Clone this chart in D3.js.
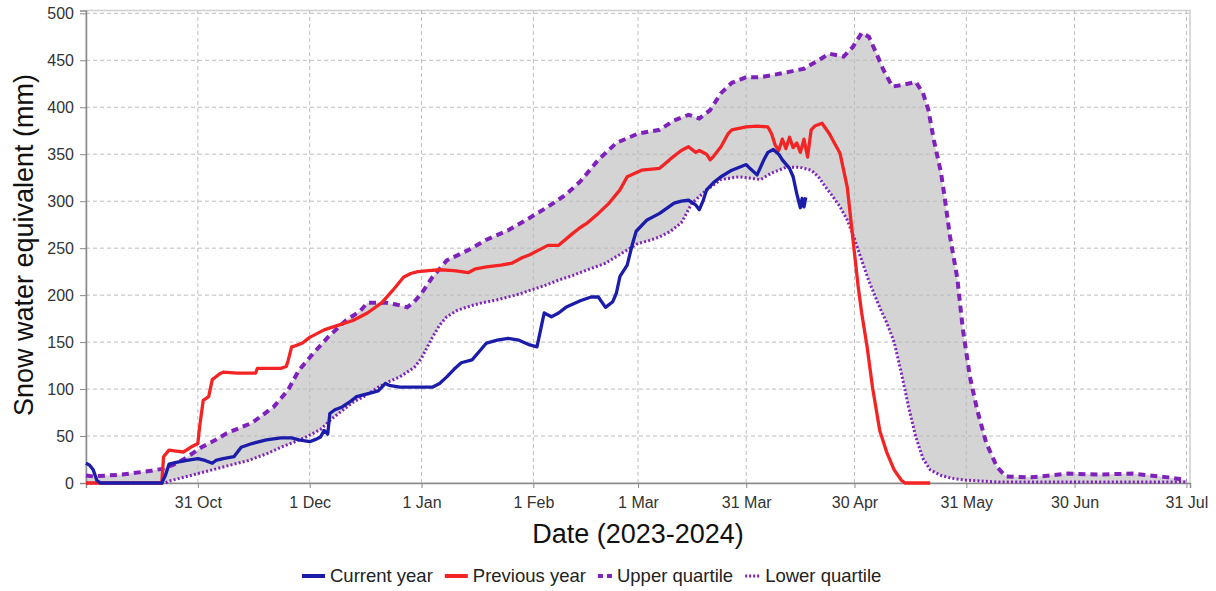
<!DOCTYPE html>
<html>
<head>
<meta charset="utf-8">
<script src="https://cdn.jsdelivr.net/npm/d3@7"></script>
<style>
  html, body { margin: 0; padding: 0; background: #fff; }
  svg { display: block; font-family: "Liberation Sans", Arial, sans-serif; }
</style>
</head>
<body>
<svg id="chart" width="1216" height="591"></svg>
<script>
// ---------- DATA ----------
const xTickDates = ["2023-10-31","2023-12-01","2024-01-01","2024-02-01","2024-03-01","2024-03-31","2024-04-30","2024-05-31","2024-06-30","2024-07-31"];
const xTickLabels = ["31 Oct","1 Dec","1 Jan","1 Feb","1 Mar","31 Mar","30 Apr","31 May","30 Jun","31 Jul"];
const yTicks = [0,50,100,150,200,250,300,350,400,450,500];

const seriesNames = ["Current year","Previous year","Upper quartile","Lower quartile"];

const upperQuartile = [
 ["2023-09-30",8],["2023-10-02",7],["2023-10-10",9],["2023-10-18",13],["2023-10-21",15],["2023-10-24",19],["2023-10-27",25],
 ["2023-11-01",38],["2023-11-05",46],["2023-11-08",53],["2023-11-15",64],["2023-11-21",81],["2023-11-25",99],["2023-11-28",120],
 ["2023-12-02",138],["2023-12-06",155],["2023-12-11",173],["2023-12-15",183],["2023-12-17",192],["2023-12-22",192],["2023-12-25",190],
 ["2023-12-28",187],["2023-12-30",193],["2024-01-01",202],["2024-01-04",219],["2024-01-08",237],["2024-01-14",248],["2024-01-19",259],
 ["2024-01-25",269],["2024-01-30",280],["2024-02-05",294],["2024-02-10",307],["2024-02-14",321],["2024-02-19",344],["2024-02-24",362],
 ["2024-03-01",372],["2024-03-07",376],["2024-03-11",386],["2024-03-15",392],["2024-03-18",388],["2024-03-21",397],["2024-03-24",415],
 ["2024-03-27",426],["2024-03-31",432],["2024-04-04",432],["2024-04-07",434],["2024-04-11",437],["2024-04-16",441],["2024-04-20",450],
 ["2024-04-23",457],["2024-04-27",454],["2024-04-29T12:00Z",464],["2024-05-02",479],["2024-05-04",475],["2024-05-06",458],["2024-05-08",440],
 ["2024-05-10T12:00Z",422],["2024-05-13T12:00Z",424],["2024-05-17",427],["2024-05-19",415],["2024-05-20T12:00Z",397],["2024-05-22",365],
 ["2024-05-24",330],["2024-05-25",304],["2024-05-26T12:00Z",262],["2024-05-28T12:00Z",218],["2024-05-30",165],["2024-06-01",113],
 ["2024-06-03",78],["2024-06-05T12:00Z",43],["2024-06-08T12:00Z",17],["2024-06-11",7],["2024-06-18",6],["2024-06-28",10],
 ["2024-07-07",9],["2024-07-16",10],["2024-07-26",6],["2024-07-31",3]
];

const lowerQuartile = [
 ["2023-09-30",0],["2023-10-22",0],["2023-10-23",2],["2023-10-26",5],["2023-10-30",9],["2023-11-04",14],["2023-11-09",19],
 ["2023-11-14",24],["2023-11-19",31],["2023-11-23",38],["2023-11-27",44],["2023-11-30",49],["2023-12-04",57],["2023-12-07",68],
 ["2023-12-10",77],["2023-12-13",86],["2023-12-16",92],["2023-12-20",102],["2023-12-23",108],["2023-12-26",113],["2023-12-30",123],
 ["2024-01-01",133],["2024-01-02T12:00Z",144],["2024-01-04",155],["2024-01-06",168],["2024-01-08",177],["2024-01-11",184],
 ["2024-01-15",189],["2024-01-18",192],["2024-01-22",195],["2024-01-25",198],["2024-01-28",201],["2024-01-31",205],["2024-02-04",210],
 ["2024-02-08",216],["2024-02-12",221],["2024-02-16",227],["2024-02-21",234],["2024-02-24",241],["2024-02-27",248],["2024-03-01",255],
 ["2024-03-04",258],["2024-03-07",262],["2024-03-10",268],["2024-03-13",277],["2024-03-16",298],["2024-03-20",312],["2024-03-24",323],
 ["2024-03-29",326],["2024-04-02",324],["2024-04-04",323],["2024-04-07",330],["2024-04-11",336],["2024-04-15",336],["2024-04-18",333],
 ["2024-04-20",326],["2024-04-22",315],["2024-04-24",305],["2024-04-26",294],["2024-04-28",280],["2024-04-30",260],["2024-05-02",237],
 ["2024-05-04",215],["2024-05-07",187],["2024-05-09",170],["2024-05-11",150],["2024-05-13",117],["2024-05-15",81],["2024-05-17",49],
 ["2024-05-19",26],["2024-05-21",14],["2024-05-24",8],["2024-05-27",5],["2024-05-31",3],["2024-06-09",1],["2024-07-31",1]
];

const currentYear = [
 ["2023-09-30",21],["2023-10-01",19],["2023-10-02",14],["2023-10-03",3],["2023-10-04",0],["2023-10-21",0],["2023-10-22",8],
 ["2023-10-23",20],["2023-10-25",22],["2023-10-28",24],["2023-10-31",26],["2023-11-02",24],["2023-11-04",21],["2023-11-05",24],
 ["2023-11-07",26],["2023-11-10",28],["2023-11-11",33],["2023-11-12",38],["2023-11-15",42],["2023-11-19",46],["2023-11-23",48],
 ["2023-11-26",48],["2023-11-28",46],["2023-12-01",44],["2023-12-03",47],["2023-12-04",49],["2023-12-05",56],["2023-12-06",52],
 ["2023-12-06T14:00Z",74],["2023-12-08",78],["2023-12-10",81],["2023-12-12",86],["2023-12-14",92],["2023-12-18",96],["2023-12-20",98],
 ["2023-12-22",106],["2023-12-23",104],["2023-12-26",102],["2024-01-01",102],["2024-01-04",102],["2024-01-06",106],["2024-01-08",113],
 ["2024-01-10",121],["2024-01-12",128],["2024-01-15",131],["2024-01-17",140],["2024-01-19",149],["2024-01-22",152],["2024-01-25",154],
 ["2024-01-28",152],["2024-01-31",147],["2024-02-02",145],["2024-02-03T12:00Z",172],["2024-02-04",181],["2024-02-06",177],["2024-02-08",181],
 ["2024-02-10",187],["2024-02-14",194],["2024-02-17",198],["2024-02-19",198],["2024-02-21",187],["2024-02-23",193],["2024-02-24",202],
 ["2024-02-25",220],["2024-02-27",232],["2024-02-28T12:00Z",255],["2024-02-29T12:00Z",268],["2024-03-03T12:00Z",280],["2024-03-07",287],
 ["2024-03-11",298],["2024-03-13",300],["2024-03-15",301],["2024-03-17",296],["2024-03-18",291],["2024-03-19",300],["2024-03-20",312],
 ["2024-03-22",320],["2024-03-24",326],["2024-03-27",333],["2024-03-31",339],["2024-04-01",335],["2024-04-03",328],["2024-04-05",345],
 ["2024-04-06",352],["2024-04-07T12:00Z",355],["2024-04-09",350],["2024-04-10",344],["2024-04-12",335],["2024-04-13",326],["2024-04-14",308],
 ["2024-04-15",293],["2024-04-15T12:00Z",303],["2024-04-16",294],["2024-04-16T12:00Z",304]
];

const previousYear = [
 ["2023-09-30",0],["2023-10-21",0],["2023-10-21T12:00Z",28],["2023-10-23",35],["2023-10-25",34],["2023-10-27",33],["2023-10-29",38],
 ["2023-10-31",42],["2023-10-31T12:00Z",60],["2023-11-01T12:00Z",88],["2023-11-03",92],["2023-11-04",110],["2023-11-06",116],["2023-11-07",118],
 ["2023-11-11",117],["2023-11-16",117],["2023-11-16T12:00Z",122],["2023-11-23",122],["2023-11-24T12:00Z",124],["2023-11-25",130],["2023-11-26",145],
 ["2023-11-27",146],["2023-11-29",149],["2023-12-01",155],["2023-12-05",163],["2023-12-09",168],["2023-12-13",173],["2023-12-17",181],
 ["2023-12-21",192],["2023-12-24",205],["2023-12-27",219],["2023-12-29",223],["2023-12-31",225],["2024-01-03",226],["2024-01-06",227],
 ["2024-01-10",226],["2024-01-14",224],["2024-01-16",228],["2024-01-19",230],["2024-01-23",232],["2024-01-26",234],["2024-01-29",240],
 ["2024-01-31",243],["2024-02-03",249],["2024-02-05",253],["2024-02-08",253],["2024-02-12",266],["2024-02-14",272],["2024-02-16",277],
 ["2024-02-19",287],["2024-02-22",298],["2024-02-25",312],["2024-02-27",326],["2024-03-02",333],["2024-03-07",335],["2024-03-10",345],
 ["2024-03-13",354],["2024-03-15",358],["2024-03-17",352],["2024-03-18",354],["2024-03-20",350],["2024-03-21",344],["2024-03-22",348],
 ["2024-03-24",358],["2024-03-26",372],["2024-03-27",376],["2024-03-31",379],["2024-04-03",380],["2024-04-06",379],["2024-04-07",372],
 ["2024-04-08",360],["2024-04-09",354],["2024-04-10",366],["2024-04-11",356],["2024-04-12",368],["2024-04-13",357],["2024-04-14",362],
 ["2024-04-15",352],["2024-04-16",366],["2024-04-17",347],["2024-04-18",376],["2024-04-19",380],["2024-04-21",383],["2024-04-23",372],
 ["2024-04-25",358],["2024-04-26",351],["2024-04-28",315],["2024-04-29",280],["2024-04-30",245],["2024-05-01",210],["2024-05-02",181],
 ["2024-05-03T12:00Z",145],["2024-05-05",102],["2024-05-07",56],["2024-05-09",32],["2024-05-11",14],["2024-05-13",3],["2024-05-14",0],
 ["2024-05-21",0]
];

// ---------- STYLE ----------
const colors = { current: "#1c1caa", previous: "#f42424", quartile: "#7e22bb", fill: "#d4d4d4", grid: "#bdbdbd" };

// ---------- CHART ----------
const svg = d3.select("#chart");
const parse = s => d3.isoParse(s);

const x = d3.scaleUtc()
  .domain([parse("2023-09-30"), parse("2024-08-01")])
  .range([86, 1190]);
const y = d3.scaleLinear().domain([0, 503]).range([483, 10.5]);

const toPts = arr => arr.map(d => [parse(d[0]), d[1]]);
const U = toPts(upperQuartile), L = toPts(lowerQuartile), C = toPts(currentYear), P = toPts(previousYear);

const line = d3.line().x(d => x(d[0])).y(d => y(d[1]));

// frame
svg.append("rect").attr("x", x.range()[0]).attr("y", y(503)).attr("width", x.range()[1] - x.range()[0]).attr("height", y(0) - y(503))
  .attr("fill", "#fff").attr("stroke", "#cfcfcf").attr("stroke-width", 1.5);

// band fill
const band = U.concat(L.slice().reverse());
svg.append("path").attr("d", line(band) + "Z").attr("fill", colors.fill).attr("stroke", "none");

// grid
const grid = svg.append("g");
yTicks.filter(v => v > 0).forEach(v => {
  grid.append("line").attr("x1", x.range()[0]).attr("x2", x.range()[1]).attr("y1", y(v)).attr("y2", y(v))
    .attr("stroke", colors.grid).attr("stroke-width", 1).attr("stroke-dasharray", "4,3");
});
xTickDates.forEach(s => {
  const d = parse(s);
  grid.append("line").attr("x1", x(d)).attr("x2", x(d)).attr("y1", y(0)).attr("y2", y(503))
    .attr("stroke", colors.grid).attr("stroke-width", 1).attr("stroke-dasharray", "4,3");
});

// axes
const yAxis = d3.axisLeft(y).tickValues(yTicks).tickSize(6).tickPadding(6);
const gy = svg.append("g").attr("transform", `translate(${x.range()[0]},0)`).call(yAxis);
const xAxis = d3.axisBottom(x).tickValues(xTickDates.map(parse)).tickFormat((d, i) => xTickLabels[i]).tickSize(5).tickPadding(9);
const gx = svg.append("g").attr("transform", `translate(0,${y(0)})`).call(xAxis);
[gx, gy].forEach(g => {
  g.select(".domain").attr("stroke", "#8a8a8a").attr("stroke-width", 1.5);
  g.selectAll(".tick line").attr("stroke", "#8a8a8a");
  g.selectAll(".tick text").attr("fill", "#333").style("font-size", "16px").style("font-family", "'Liberation Sans', Arial, sans-serif");
});

// series
svg.append("path").attr("d", line(L)).attr("fill", "none").attr("stroke", colors.quartile)
  .attr("stroke-width", 3).attr("stroke-dasharray", "2,2.2");
svg.append("path").attr("d", line(U)).attr("fill", "none").attr("stroke", colors.quartile)
  .attr("stroke-width", 4).attr("stroke-dasharray", "7,5");
svg.append("path").attr("d", line(P)).attr("fill", "none").attr("stroke", colors.previous)
  .attr("stroke-width", 3.3).attr("stroke-linejoin", "round");
svg.append("path").attr("d", line(C)).attr("fill", "none").attr("stroke", colors.current)
  .attr("stroke-width", 3.3).attr("stroke-linejoin", "round");

// axis titles
svg.append("text").attr("x", 638).attr("y", 543).attr("text-anchor", "middle")
  .style("font-size", "27px").attr("fill", "#111").text("Date (2023-2024)");
svg.append("text").attr("transform", "translate(33,245) rotate(-90)").attr("text-anchor", "middle")
  .style("font-size", "27px").attr("fill", "#111").text("Snow water equivalent (mm)");

// legend
const legendStyles = [
  { color: colors.current, dash: null, w: 4, len: 23 },
  { color: colors.previous, dash: null, w: 4, len: 23 },
  { color: colors.quartile, dash: "5,4", w: 4, len: 14 },
  { color: colors.quartile, dash: "2,2", w: 3, len: 15 }
];
const lg = svg.append("g").attr("transform", "translate(302,576)");
let lx = 0;
seriesNames.forEach((name, i) => {
  const st = legendStyles[i];
  lg.append("line").attr("x1", lx).attr("x2", lx + st.len).attr("y1", 0).attr("y2", 0)
    .attr("stroke", st.color).attr("stroke-width", st.w).attr("stroke-dasharray", st.dash);
  const t = lg.append("text").attr("x", lx + st.len + 5).attr("y", 0).attr("dy", "0.35em")
    .style("font-size", "18.5px").attr("fill", "#222").text(name);
  lx += st.len + 5 + t.node().getComputedTextLength() + 12;
});
</script>
</body>
</html>
